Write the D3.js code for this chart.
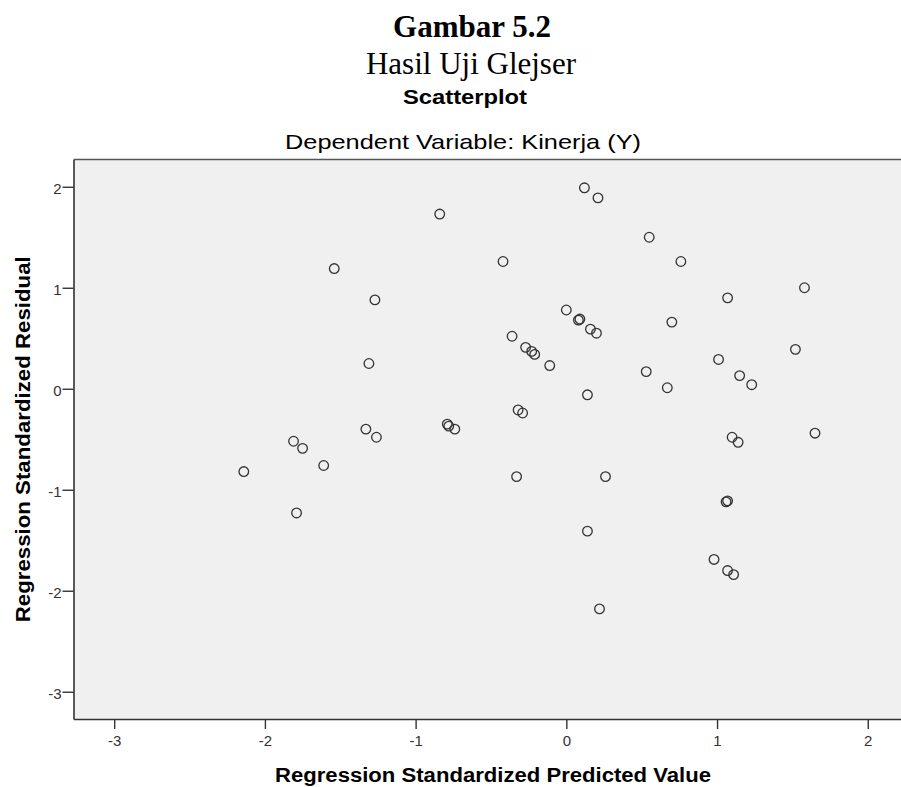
<!DOCTYPE html>
<html>
<head>
<meta charset="utf-8">
<script src="https://cdn.jsdelivr.net/npm/d3@7/dist/d3.min.js"></script>
<style>
  html, body { margin: 0; padding: 0; background: #ffffff; }
  svg { display: block; }
</style>
</head>
<body>
<svg id="chart" width="901" height="787"></svg>
<script>
// ---- data ----
const predicted = [0.12, 0.21, -0.84, 0.55, -0.42, 0.76, -1.54, 1.58, 1.07, -1.27,
  0.00, 0.08, 0.09, 0.70, 0.16, 0.20, -0.36, -0.27, -0.23, -0.21,
  1.52, 1.01, -1.31, -0.11, 0.53, 1.15, 1.23, 0.67, 0.14, -0.32,
  -0.29, -1.33, -1.26, -0.79, -0.78, -0.74, -1.81, -1.75, -1.61, -2.14,
  -1.79, -0.33, 0.26, 1.10, 1.14, 1.65, 1.06, 1.07, 0.14, 0.98,
  1.07, 1.11, 0.22];
const residual = [1.99, 1.89, 1.73, 1.50, 1.26, 1.26, 1.19, 1.00, 0.90, 0.88,
  0.78, 0.68, 0.69, 0.66, 0.59, 0.55, 0.52, 0.41, 0.37, 0.34,
  0.39, 0.29, 0.25, 0.23, 0.17, 0.13, 0.04, 0.01, -0.06, -0.21,
  -0.24, -0.40, -0.48, -0.35, -0.37, -0.40, -0.52, -0.59, -0.76, -0.82,
  -1.23, -0.87, -0.87, -0.48, -0.53, -0.44, -1.12, -1.11, -1.41, -1.69,
  -1.80, -1.84, -2.18];
const xTicks = [-3, -2, -1, 0, 1, 2];
const yTicks = [-3, -2, -1, 0, 1, 2];
const xDomain = [-3.27, 2.34];
const yDomain = [-3.27, 2.27];
const titleLines = ["Gambar 5.2", "Hasil Uji Glejser"];
const chartTitle = "Scatterplot";
const subTitle = "Dependent Variable: Kinerja (Y)";
const xLabel = "Regression Standardized Predicted Value";
const yLabel = "Regression Standardized Residual";

// ---- layout ----
const svg = d3.select("#chart");
const plot = { left: 73.5, right: 919, top: 159.5, bottom: 719 };

const x = d3.scaleLinear().domain(xDomain).range([plot.left, plot.right]);
const y = d3.scaleLinear().domain(yDomain).range([plot.bottom, plot.top]);

// headings
svg.append("text").attr("x", 472).attr("y", 37)
  .attr("text-anchor", "middle")
  .style("font-family", "'Liberation Serif', 'Times New Roman', serif")
  .style("font-weight", "bold").style("font-size", "31px")
  .text(titleLines[0]);
svg.append("text").attr("x", 471).attr("y", 74)
  .attr("text-anchor", "middle")
  .style("font-family", "'Liberation Serif', 'Times New Roman', serif")
  .style("font-size", "31px")
  .text(titleLines[1]);
svg.append("text").attr("x", 465).attr("y", 104)
  .attr("text-anchor", "middle")
  .attr("textLength", 124).attr("lengthAdjust", "spacingAndGlyphs")
  .style("font-family", "'Liberation Sans', Arial, sans-serif")
  .style("font-weight", "bold").style("font-size", "21px")
  .text(chartTitle);
svg.append("text").attr("x", 463).attr("y", 149)
  .attr("text-anchor", "middle")
  .attr("textLength", 356).attr("lengthAdjust", "spacingAndGlyphs")
  .style("font-family", "'Liberation Sans', Arial, sans-serif")
  .style("font-size", "21px")
  .text(subTitle);

// plot background
svg.append("rect")
  .attr("x", plot.left).attr("y", plot.top)
  .attr("width", plot.right - plot.left).attr("height", plot.bottom - plot.top)
  .attr("fill", "#f0f0f0");
svg.append("line")
  .attr("x1", plot.left).attr("x2", plot.right)
  .attr("y1", plot.top).attr("y2", plot.top)
  .attr("stroke", "#555").attr("stroke-width", 1.5);

// axes
const axisColor = "#333";
const gx = svg.append("g")
  .attr("transform", `translate(0,${plot.bottom})`)
  .call(d3.axisBottom(x).tickValues(xTicks).tickFormat(d3.format("d"))
    .tickSize(10).tickSizeOuter(0).tickPadding(6));
const gy = svg.append("g")
  .attr("transform", `translate(${plot.left},0)`)
  .call(d3.axisLeft(y).tickValues(yTicks).tickFormat(d3.format("d"))
    .tickSize(11).tickSizeOuter(0).tickPadding(1));
[gx, gy].forEach(g => {
  g.select(".domain").attr("stroke", axisColor).attr("stroke-width", 1.6);
  g.selectAll(".tick line").attr("stroke", axisColor).attr("stroke-width", 1.4);
  g.selectAll(".tick text")
    .attr("fill", "#333")
    .style("font-family", "'Liberation Sans', Arial, sans-serif")
    .style("font-size", "15px");
});
gy.selectAll(".tick text").attr("dy", "0.45em");
gx.selectAll(".tick text").text(d => d3.format("d")(d).replace("\u2212", "-"));
gy.selectAll(".tick text").text(d => d3.format("d")(d).replace("\u2212", "-"));

// axis labels
svg.append("text")
  .attr("x", 493).attr("y", 782)
  .attr("text-anchor", "middle")
  .attr("textLength", 436).attr("lengthAdjust", "spacingAndGlyphs")
  .style("font-family", "'Liberation Sans', Arial, sans-serif")
  .style("font-weight", "bold").style("font-size", "19.5px")
  .text(xLabel);
svg.append("text")
  .attr("transform", `translate(29.5,${(plot.top + plot.bottom) / 2}) rotate(-90)`)
  .attr("text-anchor", "middle")
  .attr("textLength", 366).attr("lengthAdjust", "spacingAndGlyphs")
  .style("font-family", "'Liberation Sans', Arial, sans-serif")
  .style("font-weight", "bold").style("font-size", "19.5px")
  .text(yLabel);

// points
svg.append("g").selectAll("circle")
  .data(predicted.map((p, i) => ({ p, r: residual[i] })))
  .join("circle")
  .attr("cx", d => x(d.p))
  .attr("cy", d => y(d.r))
  .attr("r", 4.8)
  .attr("fill", "none")
  .attr("stroke", "#333")
  .attr("stroke-width", 1.3);
</script>
</body>
</html>
